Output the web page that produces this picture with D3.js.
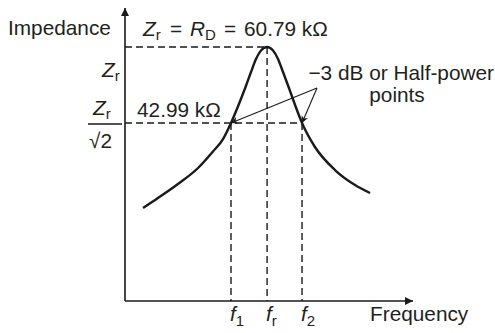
<!DOCTYPE html>
<html>
<head>
<meta charset="utf-8">
<script src="https://cdn.jsdelivr.net/npm/d3@7"></script>
<style>
  body { margin: 0; background: #fff; }
  svg text { font-family: "Liberation Sans", Arial, sans-serif; fill: #231f20; }
</style>
</head>
<body>
<svg id="chart" width="495" height="333"></svg>
<script>
// Resonance curve of a parallel tuned circuit, impedance vs frequency.
// Frequency in units of fr, impedance in kOhm.

const freq = [0.127, 0.232, 0.373, 0.514, 0.619, 0.690, 0.746, 0.802, 0.851, 0.887, 0.922, 0.957, 1.0,
              1.042, 1.077, 1.112, 1.154, 1.197, 1.246, 1.337, 1.478, 1.619, 1.725];
const impedance = [23.08, 25.42, 28.70, 32.45, 36.32, 39.24, 42.99, 47.44, 51.66, 54.93, 57.98, 59.97, 60.79,
                   59.97, 57.98, 54.93, 51.19, 47.21, 42.99, 37.37, 31.98, 28.47, 26.60];

const markFreqs = [0.746, 1.0, 1.246];          // f1, fr, f2
const markLabels = ['1', 'r', '2'];
const zPeak = 60.79;
const zHalf = 42.99;

const svg = d3.select('#chart');
const ink = '#1a1a1a';

const plotBottom = 301, plotTop = 8;
const x = d3.scaleLinear().domain([0, 2.02]).range([125, 412]);
const y = d3.scaleLinear().domain([zHalf, zPeak]).range([123, 47]);

// arrow markers
const defs = svg.append('defs');
defs.append('marker')
  .attr('id', 'axis-arrow')
  .attr('viewBox', '0 0 10 10')
  .attr('refX', 10).attr('refY', 5)
  .attr('markerWidth', 10).attr('markerHeight', 8)
  .attr('markerUnits', 'userSpaceOnUse')
  .attr('orient', 'auto')
  .append('path').attr('d', 'M0,0 L10,5 L0,10 z').attr('fill', ink);
defs.append('marker')
  .attr('id', 'thin-arrow')
  .attr('viewBox', '0 0 10 10')
  .attr('refX', 10).attr('refY', 5)
  .attr('markerWidth', 9).attr('markerHeight', 7)
  .attr('markerUnits', 'userSpaceOnUse')
  .attr('orient', 'auto')
  .append('path').attr('d', 'M0,0 L10,5 L0,10 L3,5 z').attr('fill', ink);

// axes
svg.append('line')
  .attr('x1', x(0)).attr('y1', plotBottom)
  .attr('x2', x(0)).attr('y2', plotTop)
  .attr('stroke', ink).attr('stroke-width', 1.6)
  .attr('marker-end', 'url(#axis-arrow)');
svg.append('line')
  .attr('x1', x(0)).attr('y1', plotBottom)
  .attr('x2', x.range()[1] + 1).attr('y2', plotBottom)
  .attr('stroke', ink).attr('stroke-width', 1.6)
  .attr('marker-end', 'url(#axis-arrow)');

// dashed guides
function dashed(x1, y1, x2, y2) {
  svg.append('line')
    .attr('x1', x1).attr('y1', y1).attr('x2', x2).attr('y2', y2)
    .attr('stroke', ink).attr('stroke-width', 1.4)
    .attr('stroke-dasharray', '7,4');
}
dashed(x(0), y(zPeak), x(markFreqs[1]), y(zPeak));
dashed(x(0), y(zHalf), x(markFreqs[2]), y(zHalf));
dashed(x(markFreqs[0]), y(zHalf), x(markFreqs[0]), plotBottom);
dashed(x(markFreqs[1]), y(zPeak), x(markFreqs[1]), plotBottom);
dashed(x(markFreqs[2]), y(zHalf), x(markFreqs[2]), plotBottom);

// the curve
const line = d3.line()
  .x((d, i) => x(freq[i]))
  .y(d => y(d))
  .curve(d3.curveMonotoneX);
svg.append('path')
  .attr('d', line(impedance))
  .attr('fill', 'none')
  .attr('stroke', ink)
  .attr('stroke-width', 2.4);

// half-power pointer arrows
const apex = [317, 88];
[markFreqs[0], markFreqs[2]].forEach(f => {
  svg.append('line')
    .attr('x1', apex[0]).attr('y1', apex[1])
    .attr('x2', x(f)).attr('y2', y(zHalf))
    .attr('stroke', ink).attr('stroke-width', 1.1)
    .attr('marker-end', 'url(#thin-arrow)');
});

// text
const big = 20.8, sub = 15;

function label(px, py, str, opts = {}) {
  const t = svg.append('text').attr('x', px).attr('y', py)
    .attr('font-size', opts.size || big).text(str);
  if (opts.italic) t.attr('font-style', 'italic');
  if (opts.anchor) t.attr('text-anchor', opts.anchor);
  return t;
}
function zSymbol(px, py, main, subText) {
  const t = svg.append('text').attr('x', px).attr('y', py).attr('font-size', big);
  t.append('tspan').attr('font-style', 'italic').text(main);
  t.append('tspan').attr('font-size', sub).attr('dy', 4).text(subText);
  return t;
}

label(8, 35, 'Impedance');

// Zr = RD = 60.79 kΩ
zSymbol(143, 36, 'Z', 'r');
label(170, 36, '=');
zSymbol(190, 36, 'R', 'D');
label(224, 36, '=');
label(244, 36, '60.79 k\u03A9');

zSymbol(102, 77, 'Z', 'r');
zSymbol(93, 115, 'Z', 'r');
svg.append('line').attr('x1', 88).attr('x2', 122)
  .attr('y1', 124).attr('y2', 124)
  .attr('stroke', ink).attr('stroke-width', 1.3);
label(89, 148, '\u221A2');

label(137, 117, zHalf.toFixed(2) + ' k\u03A9');

label(494, 80, '\u22123 dB or Half-power', { anchor: 'end' });
label(397, 102, 'points', { anchor: 'middle' });

// frequency marks
markFreqs.forEach((f, i) => {
  const t = svg.append('text').attr('x', x(f) - 1).attr('y', 321).attr('font-size', big);
  t.append('tspan').attr('font-style', 'italic').text('f');
  t.append('tspan').attr('font-size', sub).attr('dy', 5).text(markLabels[i]);
});

label(370, 321, 'Frequency');
</script>
</body>
</html>
